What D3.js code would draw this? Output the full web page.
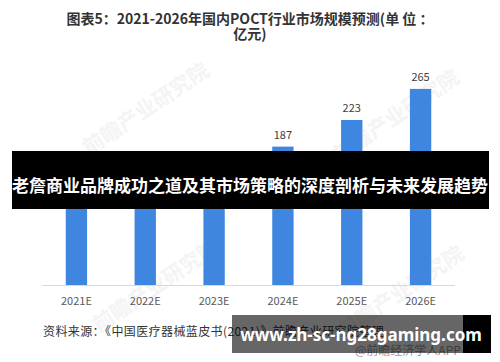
<!DOCTYPE html>
<html>
<head>
<meta charset="utf-8">
<script src="https://cdn.jsdelivr.net/npm/d3@7"></script>
<style>
  body { margin: 0; background: #fff; }
  svg { display: block; font-family: "Noto Sans CJK SC", "Noto Sans", sans-serif; }
</style>
</head>
<body>
<div id="chart"></div>
<script>
// values
const years = ['2021E', '2022E', '2023E', '2024E', '2025E', '2026E'];
const marketSize = [112, 132, 157, 187, 223, 265];
const titleLines = ['图表5：2021-2026年国内POCT行业市场规模预测(单 位 ：', '亿元)'];
const sourceText = '资料来源：《中国医疗器械蓝皮书(2021)》前瞻产业研究院整理';
const bannerText = '老詹商业品牌成功之道及其市场策略的深度剖析与未来发展趋势';
const footerText = 'www.zh-sc-ng28gaming.com';

const width = 500, height = 362;

const svg = d3.select('#chart').append('svg')
    .attr('width', width)
    .attr('height', height);

// faint watermarks
const marks = [[150, 115], [400, 122], [160, 292], [405, 298]];
svg.selectAll('.wm')
    .data(marks)
    .join('text')
    .attr('class', 'wm')
    .attr('transform', d => `translate(${d[0]},${d[1]}) rotate(-34)`)
    .attr('text-anchor', 'middle')
    .attr('font-size', 21)
    .attr('font-weight', 'bold')
    .attr('fill', '#f4f4f4')
    .text('前瞻产业研究院');

// title
svg.selectAll('.title')
    .data(titleLines)
    .join('text')
    .attr('class', 'title')
    .attr('x', 250)
    .attr('y', (d, i) => 24 + i * 15)
    .attr('text-anchor', 'middle')
    .attr('font-size', 14)
    .attr('font-weight', 'bold')
    .attr('fill', '#333')
    .text(d => d);

// scales
const x = d3.scaleBand()
    .domain(years)
    .range([42, 455])
    .paddingInner(0.69)
    .paddingOuter(0.345);

const y = d3.scaleLinear()
    .domain([0, 300])
    .range([285, 63]);

const data = years.map((yr, i) => ({year: yr, value: marketSize[i]}));

svg.selectAll('.bar')
    .data(data)
    .join('rect')
    .attr('class', 'bar')
    .attr('x', d => x(d.year))
    .attr('y', d => y(d.value))
    .attr('width', x.bandwidth())
    .attr('height', d => y(0) - y(d.value))
    .attr('fill', '#3f86e0');

svg.selectAll('.val')
    .data(data)
    .join('text')
    .attr('class', 'val')
    .attr('x', d => x(d.year) + x.bandwidth() / 2)
    .attr('y', d => y(d.value) - 8)
    .attr('text-anchor', 'middle')
    .attr('font-size', 11)
    .attr('fill', '#404040')
    .text(d => d.value);

// x axis
const xAxis = svg.append('g')
    .attr('transform', `translate(0,${y(0)})`)
    .call(d3.axisBottom(x).tickSize(0).tickPadding(12));
xAxis.select('.domain').attr('stroke', '#d9d9d9').attr('d', 'M42,0.5H455');
xAxis.selectAll('text')
    .attr('font-size', 11)
    .attr('fill', '#595959')
    .attr('font-family', '"Noto Sans CJK SC", sans-serif');

// source line
svg.append('text')
    .attr('x', 43)
    .attr('y', 336)
    .attr('font-size', 12)
    .attr('letter-spacing', 0.4)
    .attr('fill', '#333')
    .text(sourceText);

svg.append('text')
    .attr('x', 355)
    .attr('y', 355)
    .attr('font-size', 12)
    .attr('fill', '#999')
    .text('@前瞻经济学人APP');

// overlay banners
svg.append('rect').attr('x', 12).attr('y', 151).attr('width', 477).attr('height', 58).attr('fill', '#000');
svg.append('rect').attr('x', 36).attr('y', 151).attr('width', 427).attr('height', 58).attr('fill', 'rgba(0,0,0,0.6)');

svg.append('text')
    .attr('x', 250)
    .attr('y', 192)
    .attr('text-anchor', 'middle')
    .attr('font-size', 17)
    .attr('font-weight', 'bold')
    .attr('fill', '#fff')
    .text(bannerText);

svg.append('rect').attr('x', 463).attr('y', 315).attr('width', 28).attr('height', 38).attr('fill', '#000');
svg.append('rect').attr('x', 232).attr('y', 315).attr('width', 231).attr('height', 38).attr('fill', 'rgba(0,0,0,0.6)');

svg.append('text')
    .attr('x', 361)
    .attr('y', 341)
    .attr('text-anchor', 'middle')
    .attr('font-size', 17)
    .attr('font-weight', 'bold')
    .attr('font-family', '"Noto Sans", sans-serif')
    .attr('fill', '#fff')
    .text(footerText);
</script>
</body>
</html>
